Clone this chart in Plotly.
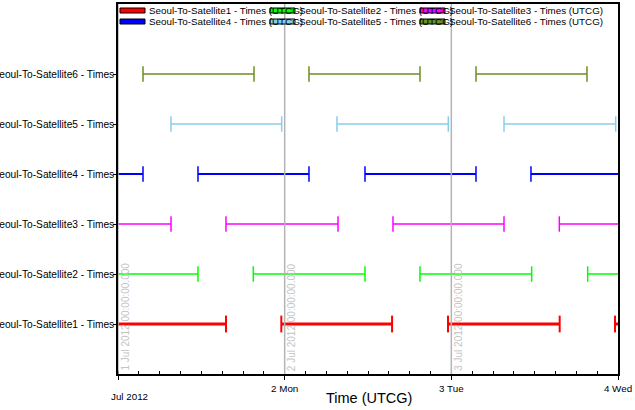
import plotly.graph_objects as go

# ---------------- data ----------------
satellites = ["Seoul-To-Satellite1", "Seoul-To-Satellite2", "Seoul-To-Satellite3",
              "Seoul-To-Satellite4", "Seoul-To-Satellite5", "Seoul-To-Satellite6"]
category_labels = [s + " - Times" for s in satellites]
legend_labels = [s + " - Times (UTCG)" for s in satellites]
colors = ["#FF0000", "#00FF00", "#FF00FF", "#0000FF", "#87CEEB", "#6B8E23"]
widths = [3, 1.5, 1.5, 2, 1.5, 1.5]

sat1_start = ["2012-06-30 23:30", "2012-07-01 23:31", "2012-07-02 23:31", "2012-07-03 23:34"]
sat1_end   = ["2012-07-01 15:33", "2012-07-02 15:28", "2012-07-03 15:36", "2012-07-04 15:30"]
sat2_start = ["2012-06-30 19:30", "2012-07-01 19:29", "2012-07-02 19:29", "2012-07-03 19:38"]
sat2_end   = ["2012-07-01 11:31", "2012-07-02 11:34", "2012-07-03 11:34", "2012-07-04 11:30"]
sat3_start = ["2012-06-30 15:30", "2012-07-01 15:33", "2012-07-02 15:36", "2012-07-03 15:33"]
sat3_end   = ["2012-07-01 07:38", "2012-07-02 07:41", "2012-07-03 07:35", "2012-07-04 07:30"]
sat4_start = ["2012-06-30 11:30", "2012-07-01 11:31", "2012-07-02 11:34", "2012-07-03 11:28"]
sat4_end   = ["2012-07-01 03:36", "2012-07-02 03:30", "2012-07-03 03:33", "2012-07-04 03:30"]
sat5_start = ["2012-07-01 07:38", "2012-07-02 07:32", "2012-07-03 07:35"]
sat5_end   = ["2012-07-01 23:34", "2012-07-02 23:34", "2012-07-03 23:40"]
sat6_start = ["2012-07-01 03:36", "2012-07-02 03:30", "2012-07-03 03:33"]
sat6_end   = ["2012-07-01 19:35", "2012-07-02 19:29", "2012-07-03 19:32"]

starts = [sat1_start, sat2_start, sat3_start, sat4_start, sat5_start, sat6_start]
ends = [sat1_end, sat2_end, sat3_end, sat4_end, sat5_end, sat6_end]

x_range = ["2012-07-01 00:00", "2012-07-04 00:00"]
day_ticks = ["2012-07-01", "2012-07-02", "2012-07-03", "2012-07-04"]
day_tick_text = ["", "2 Mon", "3 Tue", "4 Wed"]
marker_times = ["2012-07-01", "2012-07-02", "2012-07-03"]
marker_texts = ["1 Jul 2012 00:00:00.000", "2 Jul 2012 00:00:00.000", "3 Jul 2012 00:00:00.000"]

# ---------------- layout geometry ----------------
W, H = 635, 410
L, R, T, B = 118, 17, 4, 36
PW, PH = W - L - R, H - T - B


def px_x(x):
    return (x - L) / PW


def px_y(y):
    return (H - B - y) / PH


FONT = "Liberation Sans, Arial, sans-serif"

fig = go.Figure()
for i, name in enumerate(satellites):
    xs, ys = [], []
    for s, e in zip(starts[i], ends[i]):
        xs += [s, e, None]
        ys += [i, i, None]
    fig.add_trace(go.Scatter(
        x=xs, y=ys, mode="lines+markers", name=legend_labels[i], showlegend=False,
        line=dict(color=colors[i], width=widths[i]),
        marker=dict(symbol="line-ns", size=12 if i == 0 else 11,
                    line=dict(color=colors[i], width=2 if i == 0 else 1.5)),
        cliponaxis=True,
    ))

shapes = []
annotations = []
for t, txt in zip(marker_times, marker_texts):
    shapes.append(dict(type="line", xref="x", yref="paper", x0=t, x1=t, y0=0, y1=1,
                       line=dict(color="#B4B4B4", width=1.5), layer="above"))
    annotations.append(dict(x=t, y=0, xref="x", yref="paper", text=txt, textangle=-90,
                            showarrow=False, xanchor="left", yanchor="bottom",
                            xshift=-1, yshift=1,
                            font=dict(family=FONT, size=10, color="#C4C4C4")))

# manual legend (3 columns x 2 rows)
col_x = [120, 270, 420]
row_y = [10.5, 21.5]
for i, lab in enumerate(legend_labels):
    r, c = divmod(i, 3)
    x0 = col_x[c]
    yc = row_y[r]
    shapes.append(dict(type="rect", xref="paper", yref="paper",
                       x0=px_x(x0), x1=px_x(x0 + 25), y0=px_y(yc + 2.5), y1=px_y(yc - 2.5),
                       fillcolor=colors[i], line=dict(color="black", width=1), layer="above"))
    annotations.append(dict(x=px_x(x0 + 27), y=px_y(yc), xref="paper", yref="paper",
                            text=lab, showarrow=False, xanchor="left", yanchor="middle",
                            font=dict(family=FONT, size=9.8, color="black")))

annotations.append(dict(x=px_x(129), y=px_y(396), xref="paper", yref="paper",
                        text="Jul 2012", showarrow=False, xanchor="center", yanchor="middle",
                        font=dict(family=FONT, size=9.8, color="black")))
annotations.append(dict(x=px_x(368.5), y=px_y(398), xref="paper", yref="paper",
                        text="Time (UTCG)", showarrow=False, xanchor="center", yanchor="middle",
                        font=dict(family=FONT, size=14.5, color="black")))

fig.update_layout(
    width=W, height=H,
    margin=dict(l=L, r=R, t=T, b=B, autoexpand=False),
    paper_bgcolor="white", plot_bgcolor="white",
    showlegend=False,
    font=dict(family=FONT, size=9.8, color="black"),
    shapes=shapes, annotations=annotations,
    xaxis=dict(
        type="date", range=x_range, showgrid=False, zeroline=False,
        tickmode="array", tickvals=day_ticks, ticktext=day_tick_text,
        ticks="outside", ticklen=4, tickwidth=1, tickcolor="black",
        showline=True, linecolor="black", linewidth=1.5, mirror=True,
        tickfont=dict(family=FONT, size=9.8, color="black"),
        minor=dict(ticks="inside", ticklen=3, tickwidth=1, tickcolor="black",
                   dtick=3 * 3600 * 1000, tick0="2012-07-01", showgrid=False),
        automargin=False,
    ),
    yaxis=dict(
        range=[-1, 6.4], showgrid=False, zeroline=False,
        tickmode="array", tickvals=list(range(len(satellites))), ticktext=category_labels,
        ticks="outside", ticklen=3, tickwidth=1, tickcolor="black",
        ticklabelstandoff=-3,
        showline=True, linecolor="black", linewidth=1.5, mirror=True,
        tickfont=dict(family=FONT, size=10.2, color="black"),
        automargin=False,
    ),
)

fig.write_html("out.html")
